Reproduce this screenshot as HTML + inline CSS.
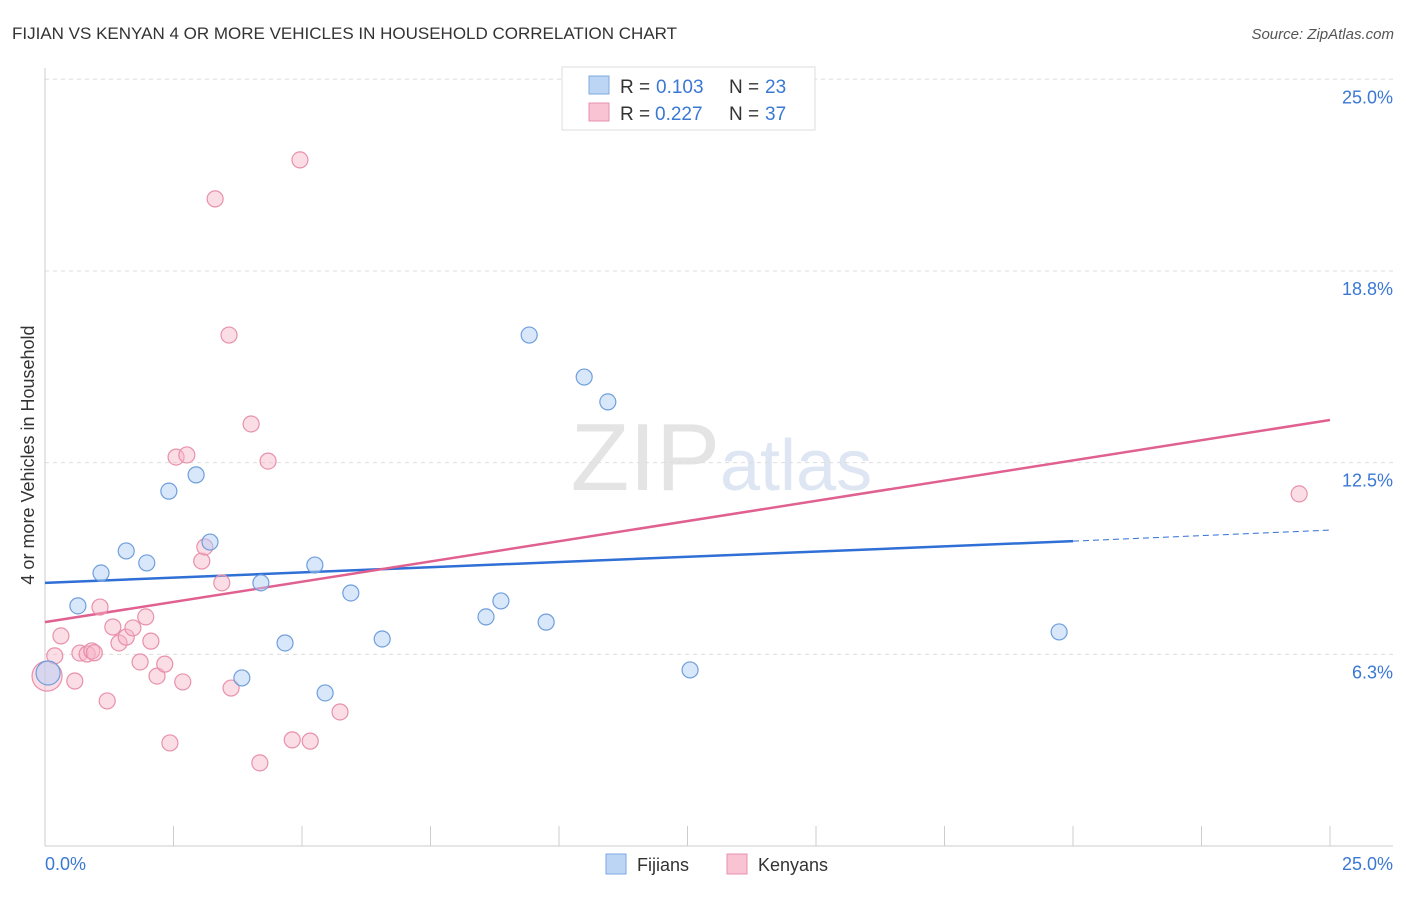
<!DOCTYPE html>
<html><head><meta charset="utf-8"><style>
body{margin:0;background:#fff;font-family:"Liberation Sans",sans-serif;}
svg text{font-family:"Liberation Sans",sans-serif;}
</style></head><body>
<svg id="chart" width="1406" height="892" viewBox="0 0 1406 892">
<text x="12" y="39" font-size="17" fill="#333">FIJIAN VS KENYAN 4 OR MORE VEHICLES IN HOUSEHOLD CORRELATION CHART</text>
<text x="1394" y="39" font-size="15" fill="#555" font-style="italic" text-anchor="end">Source: ZipAtlas.com</text>
<text x="720" y="490" font-size="96" fill="#e4e4e4" text-anchor="end" font-family="Liberation Serif">ZIP</text>
<text x="720" y="490" font-size="72" fill="#dde6f2">atlas</text>
<g id="grid"></g>
<g id="axes"></g>
<g id="lines"></g>
<g id="pts"></g>
<text transform="translate(34,455) rotate(-90)" font-size="18" fill="#333" text-anchor="middle">4 or more Vehicles in Household</text>
<g>
<rect x="562" y="67" width="253" height="63" fill="#fff" stroke="#ddd"/>
<rect x="589" y="76" width="20" height="18" fill="#bcd5f5" stroke="#7fa9e0"/>
<rect x="589" y="103" width="20" height="18" fill="#f9c3d3" stroke="#e890ab"/>
<text x="620" y="93" font-size="19" fill="#333">R =</text>
<text x="656" y="93" font-size="19" fill="#3a78d4">0.103</text>
<text x="729" y="93" font-size="19" fill="#333">N =</text>
<text x="765" y="93" font-size="19" fill="#3a78d4">23</text>
<text x="620" y="120" font-size="19" fill="#333">R =</text>
<text x="655" y="120" font-size="19" fill="#3a78d4">0.227</text>
<text x="729" y="120" font-size="19" fill="#333">N =</text>
<text x="765" y="120" font-size="19" fill="#3a78d4">37</text>
</g>
<g>
<rect x="606" y="854" width="20" height="20" fill="#bcd5f5" stroke="#7fa9e0"/>
<text x="637" y="871" font-size="18" fill="#333">Fijians</text>
<rect x="727" y="854" width="20" height="20" fill="#f9c3d3" stroke="#e890ab"/>
<text x="758" y="871" font-size="18" fill="#333">Kenyans</text>
</g>
</svg>
<script>
const yTicks=[25,18.8,12.5,6.3];
const yTickPos=[25,18.75,12.5,6.25];
const fijX=[0.06,0.64,1.09,1.58,1.98,2.41,2.94,3.21,3.83,4.20,4.67,5.25,5.45,5.95,6.56,8.58,8.87,9.42,9.75,10.49,10.95,12.55,19.73];
const fijY=[5.64,7.83,8.90,9.62,9.23,11.57,12.10,9.91,5.48,8.58,6.62,9.16,4.99,8.25,6.75,7.47,7.99,16.66,7.30,15.29,14.48,5.74,6.98];
const kenX=[0.04,0.19,0.31,0.58,0.68,0.82,0.91,0.96,1.07,1.21,1.32,1.44,1.58,1.71,1.85,1.96,2.06,2.18,2.33,2.43,2.55,2.68,2.76,3.05,3.11,3.31,3.44,3.58,3.62,4.01,4.18,4.34,4.81,4.96,5.16,5.74,24.40];
const kenY=[5.54,6.20,6.85,5.38,6.29,6.26,6.36,6.30,7.79,4.73,7.14,6.62,6.81,7.11,6.00,7.47,6.68,5.54,5.93,3.36,12.68,5.35,12.75,9.29,9.75,21.10,8.58,16.66,5.15,13.76,2.71,12.55,3.46,22.37,3.42,4.37,11.48];
const fijTrend=[8.58,9.94,10.3];
const kenTrend=[7.3,13.89];
const NS='http://www.w3.org/2000/svg';
const X=v=>45+v*51.4, Y=v=>846-v*30.67;
function mk(p,t,a){const e=document.createElementNS(NS,t);for(const k in a)e.setAttribute(k,a[k]);p.appendChild(e);return e;}
const grid=document.getElementById('grid'),axes=document.getElementById('axes'),lines=document.getElementById('lines'),pts=document.getElementById('pts');
yTickPos.forEach((v,i)=>{
 const l=mk(grid,'line',{x1:45,x2:1393,y1:Y(v),y2:Y(v),stroke:'#ddd','stroke-dasharray':'4,4'});
 
 
 const t=mk(axes,'text',{x:1393,y:Y(v)+24,'font-size':18,fill:'#3a78d4','text-anchor':'end'});
 t.textContent=yTicks[i].toFixed(1)+'%';
 
 
});
mk(axes,'line',{x1:45,x2:45,y1:68,y2:846,stroke:'#ccc'});
mk(axes,'line',{x1:45,x2:1393,y1:846,y2:846,stroke:'#ccc'});
for(let i=0;i<=10;i++){const tk=mk(axes,'line',{x1:X(i*2.5),x2:X(i*2.5),y1:826,y2:846,stroke:'#ccc'});
 
 }
let t0=mk(axes,'text',{x:45,y:870,'font-size':18,fill:'#3a78d4'});t0.textContent='0.0%';

let t1=mk(axes,'text',{x:1393,y:870,'font-size':18,fill:'#3a78d4','text-anchor':'end'});t1.textContent='25.0%';

let bl=mk(lines,'line',{x1:X(0),y1:Y(fijTrend[0]),x2:X(20),y2:Y(fijTrend[1]),stroke:'#2f6fd6','stroke-width':2.5});


let bd=mk(lines,'line',{x1:X(20),y1:Y(fijTrend[1]),x2:X(25),y2:Y(fijTrend[2]),stroke:'#2f6fd6','stroke-width':1,'stroke-dasharray':'6,4'});


let pl=mk(lines,'line',{x1:X(0),y1:Y(kenTrend[0]),x2:X(25),y2:Y(kenTrend[1]),stroke:'#e06090','stroke-width':2.5});


kenX.forEach((x,i)=>{const c=mk(pts,'circle',{cx:X(x),cy:Y(kenY[i]),r:i==0?15:8,fill:'rgba(247,180,200,0.45)',stroke:'#e890ab','stroke-width':1.2});
 
 });
fijX.forEach((x,i)=>{const c=mk(pts,'circle',{cx:X(x),cy:Y(fijY[i]),r:i==0?12:8,fill:'rgba(180,208,245,0.5)',stroke:'#6e9edc','stroke-width':1.2});
 
 });
</script>
</body></html>
